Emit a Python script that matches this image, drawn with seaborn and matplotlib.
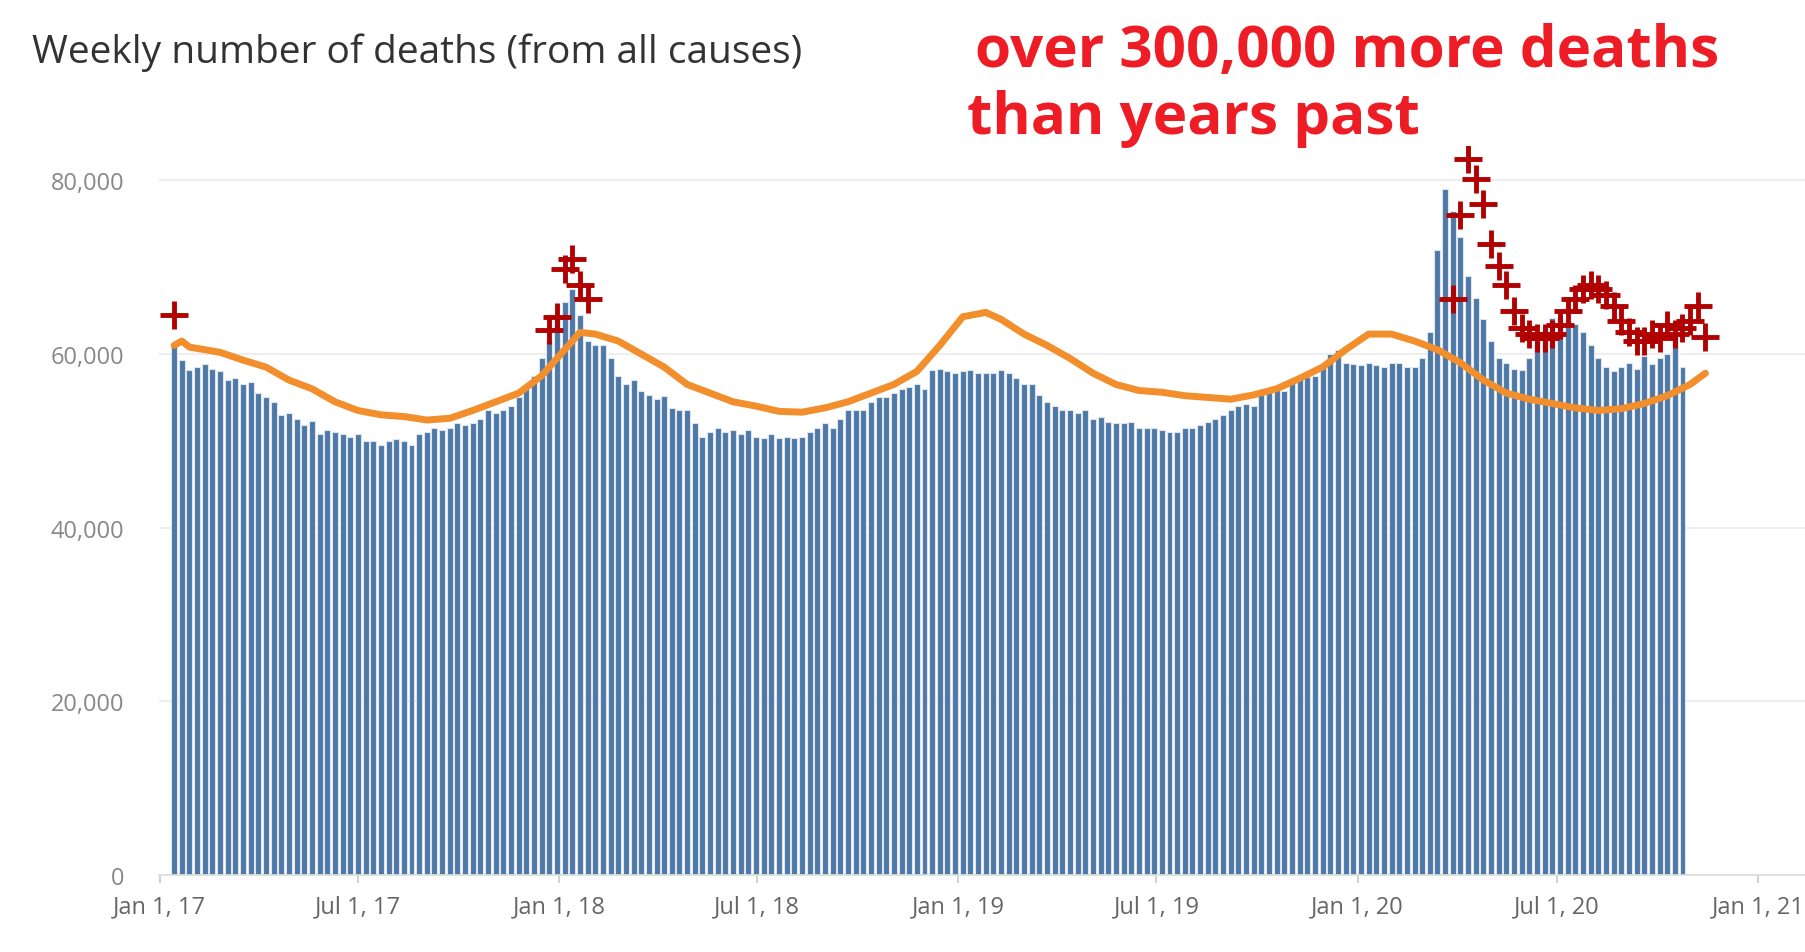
import numpy as np
import pandas as pd
import seaborn as sns
import matplotlib.pyplot as plt

start = pd.Timestamp('2017-01-14')

# weekly deaths, thousands
deaths = [61, 59.3, 58.2, 58.5, 58.8, 58.3, 58, 57, 57.2, 56.5, 56.8, 55.5, 55, 54.5, 53, 53.2, 52.5, 51.8, 52.3,
          50.8, 51.2, 51, 50.8, 50.5, 50.8, 50, 50, 49.5, 50, 50.2, 50, 49.5, 50.8, 51, 51.5, 51.2, 51.5, 52, 51.8,
          52, 52.5, 53.5, 53.2, 53.5, 54, 55, 56, 57.5, 59.5, 61.5, 64, 66, 67.5, 64.5, 61.5, 61, 61, 59.5, 57.5,
          56.5, 57, 55.8, 55.3, 54.8, 55.2, 53.8, 53.6, 53.6, 52, 50.5, 51, 51.5, 51, 51.2, 50.8, 51.2, 50.5, 50.3,
          50.8, 50.3, 50.5, 50.3, 50.5, 51, 51.5, 52, 51.5, 52.5, 53.5, 53.5, 53.5, 54.5, 55, 55, 55.5, 56, 56.2,
          56.5, 56, 58.2, 58.3, 58, 57.8, 58, 58.2, 57.8, 57.8, 57.8, 58.2, 57.8, 57.2, 56.5, 56.5, 55.3, 54.5, 54,
          53.5, 53.5, 53.2, 53.5, 52.5, 52.8, 52.2, 52, 52, 52.2, 51.5, 51.5, 51.5, 51.2, 51, 51, 51.5, 51.5, 51.8,
          52.2, 52.5, 53, 53.5, 54, 54.2, 54, 55.5, 55.8, 56, 55.8, 57, 57.5, 57.3, 57.5, 58.5, 60, 60.5, 59, 58.8,
          58.7, 59, 58.7, 58.5, 59, 59, 58.5, 58.5, 59.5, 62.5, 72, 79, 76.5, 73.5, 69, 66.5, 64, 61.5, 59.5, 59,
          58.3, 58.2, 59.5, 61.5, 63, 64.2, 64.2, 63.8, 63.5, 62.5, 61, 59.5, 58.5, 58, 58.5, 59, 58.3, 59.8, 58.8,
          59.5, 60, 62.5, 58.5]

# expected (average) line
exp_weeks = [0, 1, 2, 6, 9, 12, 15, 18, 21, 24, 27, 30, 33, 36, 39, 42, 45, 48, 51, 53, 55, 58, 61, 64, 67, 70,
             73, 76, 79, 82, 85, 88, 91, 94, 97, 100, 103, 106, 108, 111, 114, 117, 120, 123, 126, 129, 132, 135,
             138, 141, 144, 147, 150, 153, 156, 159, 162, 165, 168, 171, 174, 177, 180, 183, 186, 189, 192, 195,
             198, 200]
exp_vals = [61, 61.5, 60.8, 60.2, 59.3, 58.5, 57, 56, 54.5, 53.5, 53, 52.8, 52.4, 52.6, 53.5, 54.5, 55.5, 57.5,
            60.5, 62.5, 62.3, 61.5, 60, 58.5, 56.5, 55.5, 54.5, 54, 53.4, 53.3, 53.8, 54.5, 55.5, 56.5, 58, 61,
            64.3, 64.8, 64, 62.3, 61, 59.5, 57.8, 56.5, 55.8, 55.6, 55.2, 55, 54.8, 55.3, 56, 57.2, 58.5, 60.5,
            62.3, 62.3, 61.5, 60.5, 59, 57, 55.5, 54.8, 54.3, 53.8, 53.5, 53.7, 54.3, 55.2, 56.5, 57.8]

# weeks flagged as above threshold
plus_weeks = [0, 49, 50, 51, 52, 53, 54] + list(range(167, 201))
plus_vals = [64.5, 62.8, 64.3, 69.8, 71, 68, 66.3,
             66.3, 76, 82.5, 80.2, 77.3, 72.7, 70.2, 68, 65, 63, 62.3, 61.8, 61.8, 62.3, 63.3, 65, 66.3, 67.5,
             68, 67.5, 66.8, 65.5, 63.8, 62.5, 61.5, 61.5, 62.3, 61.8, 63.3, 62.3, 63, 63.8, 65.5, 62]

tick_dates = ['2017-01-01', '2017-07-01', '2018-01-01', '2018-07-01', '2019-01-01', '2019-07-01',
              '2020-01-01', '2020-07-01', '2021-01-01']
tick_labels = ['Jan 1, 17', 'Jul 1, 17', 'Jan 1, 18', 'Jul 1, 18', 'Jan 1, 19', 'Jul 1, 19',
               'Jan 1, 20', 'Jul 1, 20', 'Jan 1, 21']

bars = pd.DataFrame({'week': np.arange(len(deaths)), 'deaths': np.array(deaths) * 1000})
exp = pd.DataFrame({'week': exp_weeks, 'deaths': np.array(exp_vals) * 1000})
plus = pd.DataFrame({'week': plus_weeks, 'deaths': np.array(plus_vals) * 1000})

sns.set_theme(style='white')
plt.rcParams['font.family'] = ['Open Sans', 'DejaVu Sans']

fig = plt.figure(figsize=(18.05, 9.53), dpi=100)
ax = fig.add_axes([0.088, 0.081, 0.912, 0.765])

sns.barplot(data=bars, x='week', y='deaths', native_scale=True, color='#4e79a7', saturation=1,
            width=0.78, edgecolor='#dde6f0', linewidth=0.8, ax=ax, zorder=2)
sns.lineplot(data=exp, x='week', y='deaths', color='#f28e2b', linewidth=5, ax=ax, zorder=3)
ax.plot(plus['week'], plus['deaths'], linestyle='none', marker='+', markersize=20,
        markeredgewidth=3.5, color='#b00000', zorder=4)

ticks = [(pd.Timestamp(d) - start).days / 7 for d in tick_dates]
ax.set_xticks(ticks)
ax.set_xticklabels(tick_labels, fontsize=17, color='#666666')
ax.set_xlim(-2, 213)
ax.set_ylim(0, 84000)
ax.set_yticks([0, 20000, 40000, 60000, 80000])
ax.set_yticklabels(['0', '20,000', '40,000', '60,000', '80,000'], fontsize=17, color='#888888')
ax.tick_params(axis='y', length=0, pad=25)
ax.tick_params(axis='x', length=6, color='#cccccc', bottom=True, pad=8)
ax.grid(axis='y', color='#eeeeee', linewidth=1.5, zorder=0)
ax.set_axisbelow(True)
ax.set_xlabel('')
ax.set_ylabel('')
for s in ['top', 'right', 'left']:
    ax.spines[s].set_visible(False)
ax.spines['bottom'].set_color('#dddddd')

fig.text(0.018, 0.945, 'Weekly number of deaths (from all causes)', fontsize=28, color='#333333', va='center')
fig.text(0.54, 0.945, 'over 300,000 more deaths', fontsize=42, color='#ee1c25', fontweight='bold', va='center')
fig.text(0.536, 0.875, 'than years past', fontsize=42, color='#ee1c25', fontweight='bold', va='center')

fig.savefig('out.png', dpi=100)
